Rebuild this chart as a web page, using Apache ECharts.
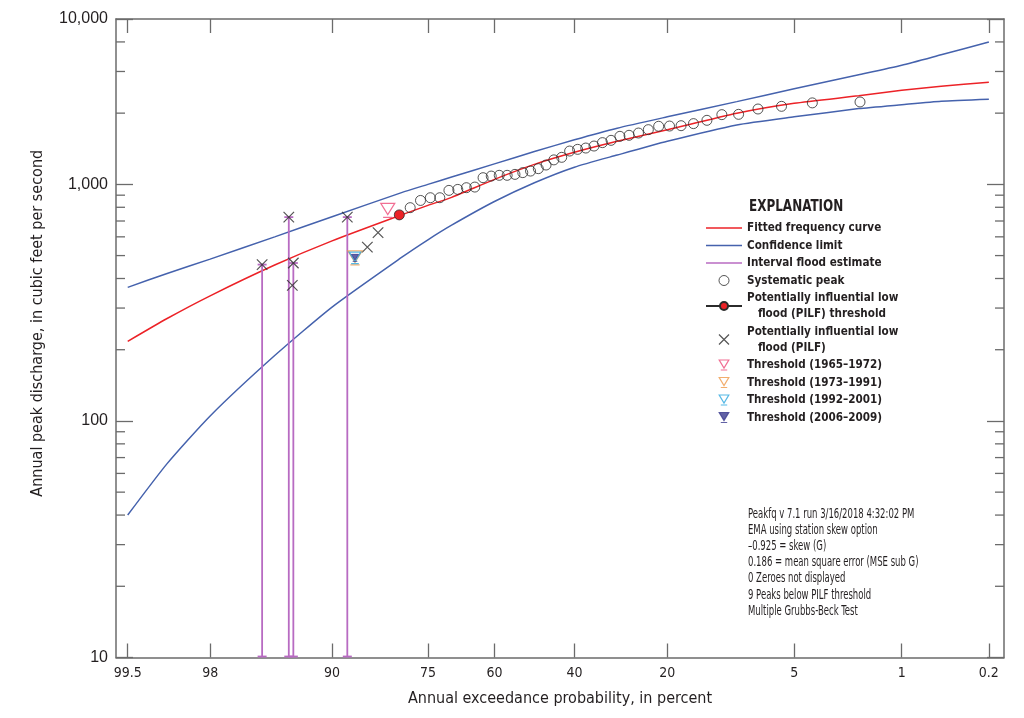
<!DOCTYPE html>
<html>
<head>
<meta charset="utf-8">
<script src="https://cdn.jsdelivr.net/npm/echarts@6/dist/echarts.min.js"></script>
<style>
  html, body { margin: 0; padding: 0; background: #fff; }
  #chart { width: 1024px; height: 718px; }
</style>
</head>
<body>
<div id="chart"></div>
<script>
// ---------------- DATA ----------------
// Probability-scale tick labels (annual exceedance probability, percent)
const xTickProb = [99.5, 98, 90, 75, 60, 40, 20, 5, 1, 0.2];
const xTickLabels = ['99.5', '98', '90', '75', '60', '40', '20', '5', '1', '0.2'];
// Y tick labels as printed on the figure
const yTickValues = [10, 100, 1000, 5000];
const yTickLabels = ['10', '100', '1,000', '10,000'];
const yMinorTicks = [20, 30, 40, 50, 60, 70, 80, 90, 200, 300, 400, 500, 600, 700, 800, 900, 2000, 3000, 4000];

// Frequency curve and confidence limits
const curveProb = [99.5, 99, 98, 95, 90, 80, 75, 70, 60, 50, 40, 30, 20, 10, 5, 2, 1, 0.5, 0.2];
const fittedQ = [217, 271, 338, 456, 577, 743, 815, 881, 1050, 1215, 1366, 1520, 1700, 1996, 2200, 2367, 2497, 2597, 2700];
const upperQ = [367, 420, 483, 600, 730, 923, 1000, 1074, 1221, 1376, 1544, 1728, 1929, 2237, 2534, 2904, 3186, 3528, 3997];
const lowerQ = [40, 66, 105, 189, 303, 491, 583, 672, 846, 1016, 1182, 1330, 1520, 1783, 1929, 2090, 2171, 2244, 2288];

// Systematic peaks
const peakProb = [1.96, 3.92, 5.88, 7.84, 9.80, 11.76, 13.73, 15.69, 17.65, 19.61, 21.57, 23.53, 25.49, 27.45, 29.41, 31.37, 33.33, 35.29, 37.25, 39.22, 41.18, 43.14, 45.10, 47.06, 49.02, 50.98, 52.94, 54.90, 56.86, 58.82, 60.78, 62.75, 64.71, 66.67, 68.63, 70.59, 72.55, 74.51, 76.47, 78.43];
const peakQ = [2230, 2210, 2137, 2082, 1977, 1971, 1865, 1806, 1770, 1764, 1760, 1703, 1648, 1612, 1596, 1535, 1501, 1452, 1424, 1406, 1383, 1301, 1269, 1207, 1165, 1138, 1121, 1102, 1092, 1092, 1084, 1067, 974, 968, 952, 943, 878, 878, 855, 797];

// PILF threshold
const pilfThreshProb = [80.39];
const pilfThreshQ = [743];

// Potentially influential low floods
const pilfProb = [83.90, 85.50, 88.20, 93.66, 93.74, 94.01, 95.77];
const pilfQ = [625, 543, 727, 465, 374, 727, 458];

// Interval flood estimates
const intervalProb = [95.77, 94.01, 93.66, 88.20];
const intervalUpper = [458, 727, 465, 727];
const intervalLower = [10, 10, 10, 10];

// Perception thresholds
const thr1965Prob = [82.35], thr1965Q = [776];
const thr1973Prob = [87.21], thr1973Q = [489];
const thr1992Prob = [87.21], thr1992Q = [489];
const thr2006Prob = [87.21], thr2006Q = [489];

const noteLines = [
  'Peakfq v 7.1 run 3/16/2018 4:32:02 PM',
  'EMA using station skew option',
  '\u20130.925 = skew (G)',
  '0.186 = mean square error (MSE sub G)',
  '0 Zeroes not displayed',
  '9 Peaks below PILF threshold',
  'Multiple Grubbs-Beck Test'
];

// ---------------- SCALE HELPERS ----------------
// inverse standard normal CDF (Acklam)
function normInv(p) {
  const a = [-3.969683028665376e+01, 2.209460984245205e+02, -2.759285104469687e+02, 1.383577518672690e+02, -3.066479806614716e+01, 2.506628277459239e+00];
  const b = [-5.447609879822406e+01, 1.615858368580409e+02, -1.556989798598866e+02, 6.680131188771972e+01, -1.328068155288572e+01];
  const c = [-7.784894002430293e-03, -3.223964580411365e-01, -2.400758277161838e+00, -2.549732539343734e+00, 4.374664141464968e+00, 2.938163982698783e+00];
  const d = [7.784695709041462e-03, 3.224671290700398e-01, 2.445134137142996e+00, 3.754408661907416e+00];
  const plow = 0.02425, phigh = 1 - plow;
  let q, r;
  if (p < plow) {
    q = Math.sqrt(-2 * Math.log(p));
    return (((((c[0]*q+c[1])*q+c[2])*q+c[3])*q+c[4])*q+c[5]) / ((((d[0]*q+d[1])*q+d[2])*q+d[3])*q+1);
  } else if (p <= phigh) {
    q = p - 0.5; r = q * q;
    return (((((a[0]*r+a[1])*r+a[2])*r+a[3])*r+a[4])*r+a[5])*q / (((((b[0]*r+b[1])*r+b[2])*r+b[3])*r+b[4])*r+1);
  } else {
    q = Math.sqrt(-2 * Math.log(1 - p));
    return -(((((c[0]*q+c[1])*q+c[2])*q+c[3])*q+c[4])*q+c[5]) / ((((d[0]*q+d[1])*q+d[2])*q+d[3])*q+1);
  }
}
// exceedance probability (percent) -> standard normal variate
const zOf = pct => normInv(1 - pct / 100);
const pairs = (probs, vals) => probs.map((p, i) => [zOf(p), vals[i]]);

const X_MIN = -2.65, X_MAX = 2.974;  // frame extent in normal-variate units
const xTickZ = xTickProb.map(zOf);

const RED = '#ec2227', BLUE = '#4562ad', PURPLE = '#b86bc2', DARK = '#2b2b2b', AXIS = '#6b6b6b';
const FONT_N = '"Liberation Sans Narrow","Arial Narrow","DejaVu Sans Condensed",sans-serif';
const FONT_R = '"Liberation Sans",Arial,sans-serif';
const TXT = '#231f20';

const thrPath = 'path://M0,0 L12,0 L6,10 Z M2,12.5 L10,12.5';
const xPath = 'path://M0,0 L10,10 M10,0 L0,10';
const linePath = 'path://M0,0 H36 V1.7 H0 Z';

const chart = echarts.init(document.getElementById('chart'), null, { renderer: 'canvas' });

const option = {
  animation: false,
  backgroundColor: '#fff',
  grid: { left: 116, right: 20, top: 19, bottom: 60.5, containLabel: false },
  xAxis: [{
    type: 'value', position: 'bottom', min: X_MIN, max: X_MAX,
    name: 'Annual exceedance probability, in percent', nameLocation: 'middle', nameGap: 33,
    nameTextStyle: { fontFamily: FONT_N, fontSize: 16, color: TXT },
    axisLine: { onZero: false, lineStyle: { color: AXIS, width: 1.5 } },
    axisTick: { inside: true, length: 14, customValues: xTickZ, lineStyle: { color: AXIS, width: 1.3 } },
    axisLabel: {
      customValues: xTickZ, margin: 9, fontFamily: FONT_N, fontSize: 14, color: TXT,
      formatter: v => { let best = 0; xTickZ.forEach((z, i) => { if (Math.abs(z - v) < Math.abs(xTickZ[best] - v)) best = i; }); return xTickLabels[best]; }
    },
    splitLine: { show: false }
  }, {
    type: 'value', position: 'top', min: X_MIN, max: X_MAX,
    axisLine: { onZero: false, lineStyle: { color: AXIS, width: 1.5 } },
    axisTick: { inside: true, length: 14, customValues: xTickZ, lineStyle: { color: AXIS, width: 1.3 } },
    axisLabel: { show: false },
    splitLine: { show: false }
  }],
  yAxis: [{
    type: 'log', logBase: 10, min: 10, max: 5000, position: 'left',
    name: 'Annual peak discharge, in cubic feet per second', nameLocation: 'middle', nameGap: 70,
    nameTextStyle: { fontFamily: FONT_N, fontSize: 16, color: TXT, padding: [0, 0, 0, 30] },
    axisLine: { onZero: false, lineStyle: { color: AXIS, width: 1.5 } },
    axisTick: { inside: true, length: 17, lineStyle: { color: AXIS, width: 1.3 } },
    axisLabel: {
      margin: 8, fontFamily: FONT_R, fontSize: 16, color: TXT, showMaxLabel: true, showMinLabel: true,
      formatter: v => {
        let best = 0;
        yTickValues.forEach((t, i) => { if (Math.abs(Math.log10(t) - Math.log10(v)) < Math.abs(Math.log10(yTickValues[best]) - Math.log10(v))) best = i; });
        return Math.abs(Math.log10(yTickValues[best]) - Math.log10(v)) < 0.02 ? yTickLabels[best] : '';
      }
    },
    splitLine: { show: false }, minorTick: { show: false }
  }, {
    type: 'log', logBase: 10, min: 10, max: 5000, position: 'right',
    axisLine: { onZero: false, lineStyle: { color: AXIS, width: 1.5 } },
    axisTick: { inside: true, length: 17, lineStyle: { color: AXIS, width: 1.3 } },
    axisLabel: { show: false },
    splitLine: { show: false }
  }],
  legend: {
    orient: 'vertical', left: 705, top: 220, padding: 0, itemWidth: 36, itemHeight: 10, itemGap: 1.5,
    selectedMode: false,
    textStyle: { fontFamily: FONT_N, fontWeight: 'bold', fontSize: 11.6, lineHeight: 16, color: TXT },
    formatter: name => name.replace('low flood', 'low\n   flood'),
    data: [
      { name: 'Fitted frequency curve', icon: linePath, itemStyle: { color: RED } },
      { name: 'Confidence limit', icon: linePath, itemStyle: { color: BLUE } },
      { name: 'Interval flood estimate', icon: linePath, itemStyle: { color: PURPLE } },
      { name: 'Systematic peak', icon: 'circle', itemStyle: { color: '#fff', borderColor: DARK, borderWidth: 1 } },
      { name: 'Potentially influential low flood (PILF) threshold' },
      { name: 'Potentially influential low flood (PILF)', icon: xPath, itemStyle: { color: DARK, borderColor: DARK, borderWidth: 1.2 } },
      { name: 'Threshold (1965\u20131972)', icon: thrPath, itemStyle: { color: '#fff', borderColor: '#ee4a78', borderWidth: 1.2 } },
      { name: 'Threshold (1973\u20131991)', icon: thrPath, itemStyle: { color: '#fff', borderColor: '#ef9a4a', borderWidth: 1.2 } },
      { name: 'Threshold (1992\u20132001)', icon: thrPath, itemStyle: { color: '#fff', borderColor: '#2aa6df', borderWidth: 1.2 } },
      { name: 'Threshold (2006\u20132009)', icon: thrPath, itemStyle: { color: '#3b3b8e', borderColor: '#3b3b8e', borderWidth: 1.2 } }
    ]
  },
  graphic: [
    { type: 'text', x: 749, y: 199, scaleX: 0.86, style: { text: 'EXPLANATION', font: 'bold 15.5px ' + FONT_N, fill: TXT } },
    { type: 'text', x: 748, y: 506, scaleX: 0.7, style: { text: noteLines.join('\n'), font: '13.5px ' + FONT_N, lineHeight: 16.2, fill: TXT } }
  ],
  series: [
    {
      name: 'Confidence limit', type: 'line', data: pairs(curveProb, upperQ), symbol: 'none', smooth: 0.2,
      lineStyle: { color: BLUE, width: 1.5 }, itemStyle: { color: BLUE }, z: 2
    },
    {
      name: 'Confidence limit', type: 'line', data: pairs(curveProb, lowerQ), symbol: 'none', smooth: 0.2,
      lineStyle: { color: BLUE, width: 1.5 }, itemStyle: { color: BLUE }, z: 2
    },
    {
      name: 'Fitted frequency curve', type: 'line', data: pairs(curveProb, fittedQ), symbol: 'none', smooth: 0.2,
      lineStyle: { color: RED, width: 1.5 }, itemStyle: { color: RED }, z: 3
    },
    {
      name: 'Interval flood estimate', type: 'custom', z: 4,
      itemStyle: { color: PURPLE },
      encode: { x: 0, y: [1, 2] },
      data: intervalProb.map((p, i) => [zOf(p), intervalUpper[i], intervalLower[i]]),
      renderItem: (params, api) => {
        const top = api.coord([api.value(0), api.value(1)]);
        const bot = api.coord([api.value(0), api.value(2)]);
        const st = { stroke: PURPLE, lineWidth: 1.8 };
        return {
          type: 'group', children: [
            { type: 'line', shape: { x1: top[0], y1: top[1], x2: bot[0], y2: bot[1] }, style: st },
            { type: 'line', shape: { x1: top[0] - 4.5, y1: top[1], x2: top[0] + 4.5, y2: top[1] }, style: st },
            { type: 'line', shape: { x1: bot[0] - 4.5, y1: bot[1] - 1, x2: bot[0] + 4.5, y2: bot[1] - 1 }, style: st }
          ]
        };
      }
    },
    {
      name: 'minorTicks', type: 'custom', silent: true, z: 1,
      encode: { x: 0, y: 1 },
      data: yMinorTicks.map(v => [X_MIN, v]),
      renderItem: (params, api) => {
        const cs = params.coordSys;
        const y = api.coord([api.value(0), api.value(1)])[1];
        const st = { stroke: AXIS, lineWidth: 1.3 };
        return {
          type: 'group', children: [
            { type: 'line', shape: { x1: cs.x, y1: y, x2: cs.x + 9, y2: y }, style: st },
            { type: 'line', shape: { x1: cs.x + cs.width - 9, y1: y, x2: cs.x + cs.width, y2: y }, style: st }
          ]
        };
      }
    },
    {
      name: 'Potentially influential low flood (PILF)', type: 'scatter', data: pairs(pilfProb, pilfQ),
      symbol: xPath, symbolSize: 10.5, itemStyle: { color: DARK, borderColor: DARK, borderWidth: 1.2 }, z: 6
    },
    {
      name: 'Threshold (1965\u20131972)', type: 'scatter', data: pairs(thr1965Prob, thr1965Q),
      symbol: thrPath, symbolSize: 14, itemStyle: { color: '#fff', borderColor: '#ee4a78', borderWidth: 1.2 }, z: 6
    },
    {
      name: 'Threshold (1973\u20131991)', type: 'scatter', data: pairs(thr1973Prob, thr1973Q),
      symbol: thrPath, symbolSize: 14, itemStyle: { color: '#fff', borderColor: '#ef9a4a', borderWidth: 1.4 }, z: 6
    },
    {
      name: 'Threshold (1992\u20132001)', type: 'scatter', data: pairs(thr1992Prob, thr1992Q),
      symbol: thrPath, symbolSize: 11.5, itemStyle: { color: '#fff', borderColor: '#2aa6df', borderWidth: 1.4 }, z: 7
    },
    {
      name: 'Threshold (2006\u20132009)', type: 'scatter', data: pairs(thr2006Prob, thr2006Q),
      symbol: thrPath, symbolSize: 7, itemStyle: { color: '#3b3b8e', borderColor: '#3b3b8e', borderWidth: 1 }, z: 8
    },
    {
      name: 'Potentially influential low flood (PILF) threshold', type: 'line', data: pairs(pilfThreshProb, pilfThreshQ),
      symbol: 'circle', symbolSize: 10, showSymbol: true,
      lineStyle: { color: DARK, width: 1.5 }, itemStyle: { color: RED, borderColor: DARK, borderWidth: 0.8 }, z: 8
    },
    {
      name: 'Systematic peak', type: 'scatter', data: pairs(peakProb, peakQ),
      symbol: 'circle', symbolSize: 10, itemStyle: { color: 'rgba(255,255,255,0)', borderColor: DARK, borderWidth: 1 }, z: 9
    }
  ]
};
chart.setOption(option);
</script>
</body>
</html>
